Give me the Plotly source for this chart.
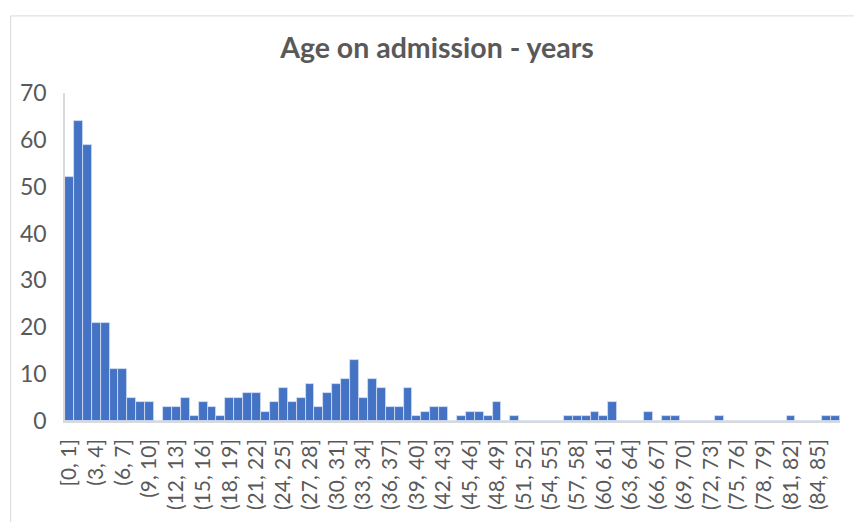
import plotly.graph_objects as go

# Age bins (years) and counts
bin_labels = ["[0, 1]"] + [f"({i}, {i+1}]" for i in range(1, 87)]
counts = [
    52, 64, 59, 21, 21, 11, 11, 5, 4, 4,
    0, 3, 3, 5, 1, 4, 3, 1, 5, 5,
    6, 6, 2, 4, 7, 4, 5, 8, 3, 6,
    8, 9, 13, 5, 9, 7, 3, 3, 7, 1,
    2, 3, 3, 0, 1, 2, 2, 1, 4, 0,
    1, 0, 0, 0, 0, 0, 1, 1, 1, 2,
    1, 4, 0, 0, 0, 2, 0, 1, 1, 0,
    0, 0, 0, 1, 0, 0, 0, 0, 0, 0,
    0, 1, 0, 0, 0, 1, 1,
]
shown_ticks = bin_labels[::3]
y_ticks = [0, 10, 20, 30, 40, 50, 60, 70]
title_text = "Age on admission - years"

TEXT = "#595959"
FONT = "Lato"

fig = go.Figure(
    go.Bar(
        x=bin_labels,
        y=counts,
        marker=dict(color="#4472C4", line=dict(color="#D6E0F2", width=0.8)),
    )
)

# page has an 8px body margin: figure origin sits at page (8, 8)
OFF = 8
W, H = 862 - OFF, 522 - OFF
L, R, T, B = 63 - OFF, 22, 93 - OFF, 95
pw, ph = W - L - R, H - T - B


def px_x(x):
    return (x - OFF - L) / pw


def px_y(y):
    return (H - B - (y - OFF)) / ph


fig.add_shape(
    type="rect", xref="paper", yref="paper",
    x0=px_x(8.5), x1=px_x(880), y0=px_y(540), y1=px_y(14.5),
    line=dict(color="#D9D9D9", width=1), fillcolor="rgba(0,0,0,0)", layer="below",
)

fig.update_layout(
    width=W, height=H,
    margin=dict(l=L, r=R, t=T, b=B),
    paper_bgcolor="white", plot_bgcolor="white",
    bargap=0,
    showlegend=False,
    title=dict(
        text=f"<b>{title_text}</b>",
        x=(437 - OFF) / W, xanchor="center",
        y=1 - (48 - OFF) / H, yanchor="middle", yref="container",
        font=dict(family=FONT, size=28.5, color=TEXT),
    ),
    xaxis=dict(
        type="category",
        tickmode="array", tickvals=shown_ticks, ticktext=shown_ticks,
        tickangle=-90,
        tickfont=dict(family=FONT, size=21, color=TEXT),
        showline=True, linecolor="#D9D9D9", linewidth=1.5,
        showgrid=False, ticks="", ticklabelstandoff=8,
    ),
    yaxis=dict(
        range=[0, 70], tickvals=y_ticks,
        tickfont=dict(family=FONT, size=23, color=TEXT),
        showline=True, linecolor="#D9D9D9", linewidth=1.5,
        showgrid=False, zeroline=False, ticks="", ticklabelstandoff=12,
    ),
)

fig.write_html("out.html")
